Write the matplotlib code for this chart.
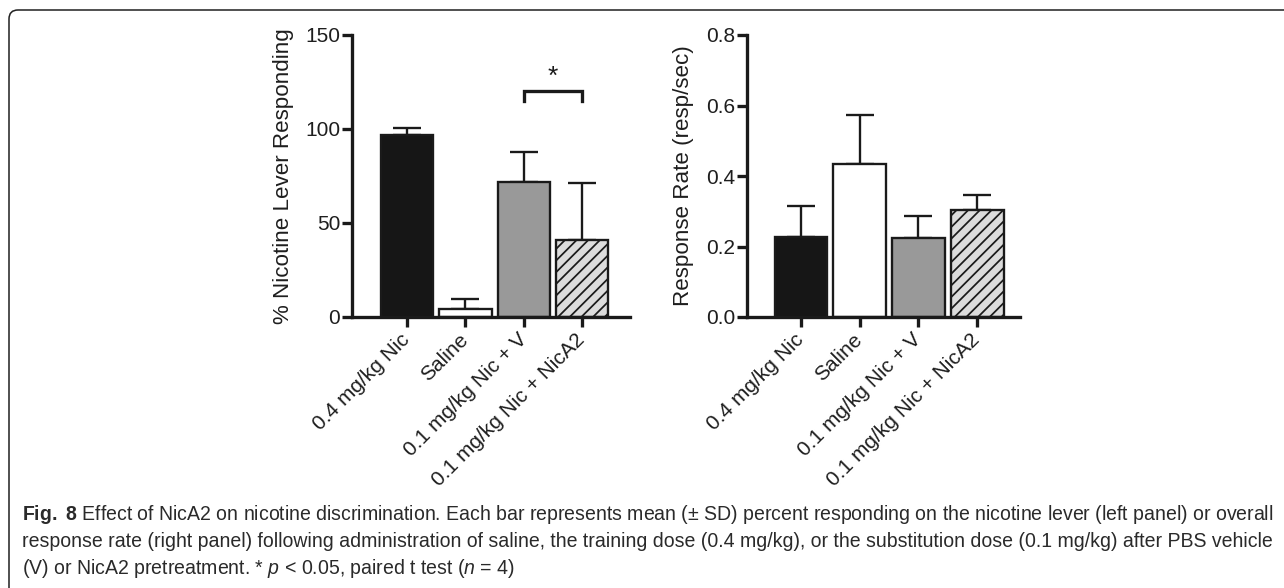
import numpy as np
import matplotlib
matplotlib.use('Agg')
import matplotlib.pyplot as plt
from matplotlib.patches import FancyBboxPatch
from matplotlib.transforms import IdentityTransform

groups = ['0.4 mg/kg Nic', 'Saline', '0.1 mg/kg Nic + V', '0.1 mg/kg Nic + NicA2']
pct_mean = [97, 4, 72, 41]
pct_sd = [3.7, 5.8, 15.8, 30.5]
rate_mean = [0.226, 0.433, 0.225, 0.304]
rate_sd = [0.090, 0.139, 0.062, 0.043]

caption = [
    r'$\mathbf{Fig.\ 8}$ Effect of NicA2 on nicotine discrimination. Each bar represents mean (± SD) percent responding on the nicotine lever (left panel) or overall',
    'response rate (right panel) following administration of saline, the training dose (0.4 mg/kg), or the substitution dose (0.1 mg/kg) after PBS vehicle',
    r'(V) or NicA2 pretreatment. * $\mathit{p}$ < 0.05, paired t test ($\mathit{n}$ = 4)',
]

plt.rcParams['font.family'] = ['Liberation Sans', 'DejaVu Sans']
plt.rcParams['hatch.linewidth'] = 1.8
plt.rcParams['hatch.color'] = '#1a1a1a'
plt.rcParams['mathtext.fontset'] = 'custom'
plt.rcParams['mathtext.rm'] = 'Liberation Sans'
plt.rcParams['mathtext.it'] = 'Liberation Sans:italic'
plt.rcParams['mathtext.bf'] = 'Liberation Sans:bold'

W, H, DPI = 1284, 588, 70
ink = '#1a1a1a'
faces = ['#161616', 'white', '#999999', '#dcdcdc']
hatches = ['', '', '', '//']

fig = plt.figure(figsize=(W / DPI, H / DPI), dpi=DPI)
ax1 = fig.add_axes([352 / W, 1 - 317 / H, 278 / W, 282 / H])
ax2 = fig.add_axes([747 / W, 1 - 317 / H, 273 / W, 282 / H])

x = np.arange(len(groups))


def panel(ax, mean, sd, xlim, ylim, yticks, fmt, ylabel):
    ax.errorbar(x, mean, yerr=[np.zeros(len(sd)), sd], fmt='none', ecolor=ink,
                elinewidth=2.4, capsize=14, capthick=2.4, zorder=1)
    ax.bar(x, mean, width=0.9, color=faces, edgecolor=ink, linewidth=2.4,
           hatch=hatches, zorder=2)
    ax.set_xlim(*xlim)
    ax.set_ylim(*ylim)
    ax.set_yticks(yticks)
    ax.set_yticklabels([fmt.format(v) for v in yticks])
    ax.set_xticks(x)
    ax.set_xticklabels(groups, rotation=45, ha='right', va='center',
                       rotation_mode='anchor')
    for s in ['top', 'right']:
        ax.spines[s].set_visible(False)
    for s in ['left', 'bottom']:
        ax.spines[s].set_linewidth(3.4)
        ax.spines[s].set_color(ink)
    ax.tick_params(axis='y', length=10, width=3.4, color=ink, pad=2,
                   labelsize=21.5, labelcolor='#1e1e1e')
    ax.tick_params(axis='x', length=10, width=3.4, color=ink, pad=10,
                   labelsize=21.5, labelcolor='#1e1e1e')
    ax.set_ylabel(ylabel, fontsize=23, color='#1e1e1e', labelpad=12)
    ax.patch.set_visible(False)


panel(ax1, pct_mean, pct_sd, (-0.943, 3.82), (0, 150), [0, 50, 100, 150], '{:.0f}',
      '% Nicotine Lever Responding')
panel(ax2, rate_mean, rate_sd, (-0.92, 3.73), (0, 0.8), [0.0, 0.2, 0.4, 0.6, 0.8], '{:.1f}',
      'Response Rate (resp/sec)')

# significance bracket
ax1.plot([2, 2, 3, 3], [115, 120.2, 120.2, 115], color=ink, lw=3.4,
         solid_joinstyle='miter', clip_on=False)
ax1.text(2.5, 124, '*', ha='center', va='baseline', fontsize=27, color=ink)

# frame around the figure
frame = FancyBboxPatch((9, -60), 1400, H - 10 + 60,
                       boxstyle='round,pad=0,rounding_size=9',
                       transform=IdentityTransform(), fill=False,
                       ec='#222222', lw=1.6)
fig.add_artist(frame)

caps = []
for i, line in enumerate(caption):
    t = fig.text(22 / W, 1 - (520 + 27 * i) / H, line, ha='left', va='baseline',
                 fontsize=18, color='#2a2a2a')
    caps.append(t)

# fit caption width to the reference
fig.canvas.draw()
r = fig.canvas.get_renderer()
scale = 1248 / caps[1].get_window_extent(r).width
for t in caps:
    t.set_fontsize(t.get_fontsize() * scale)

fig.savefig('out.png', dpi=DPI)
